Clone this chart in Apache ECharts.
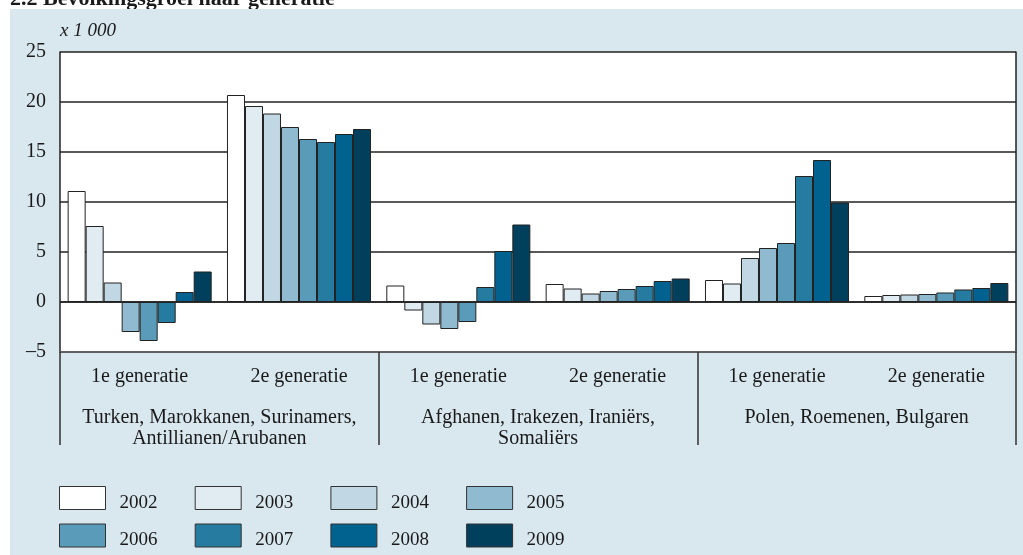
<!DOCTYPE html>
<html>
<head>
<meta charset="utf-8">
<script src="https://cdn.jsdelivr.net/npm/echarts@6/dist/echarts.min.js"></script>
<style>
html,body{margin:0;padding:0;background:#fff;}
#chart{width:1023px;height:555px;}
</style>
</head>
<body>
<div id="chart"></div>
<script>
// ---- data ----
var subCategories = ['1e generatie', '2e generatie', '1e generatie', '2e generatie', '1e generatie', '2e generatie'];
var groupCategories = ['Turken, Marokkanen, Surinamers,\nAntillianen/Arubanen', 'Afghanen, Irakezen, Iraniërs,\nSomaliërs', 'Polen, Roemenen, Bulgaren'];
var years = ['2002', '2003', '2004', '2005', '2006', '2007', '2008', '2009'];
var v2002 = [11.1, 20.7, 1.65, 1.8, 2.2, 0.6];
var v2003 = [7.6, 19.6, -0.85, 1.35, 1.85, 0.7];
var v2004 = [1.95, 18.85, -2.25, 0.85, 4.4, 0.75];
var v2005 = [-3.0, 17.5, -2.7, 1.1, 5.4, 0.8];
var v2006 = [-3.9, 16.3, -2.0, 1.3, 5.9, 0.95];
var v2007 = [-2.1, 16.0, 1.5, 1.6, 12.6, 1.25];
var v2008 = [1.0, 16.8, 5.1, 2.1, 14.2, 1.4];
var v2009 = [3.05, 17.3, 7.75, 2.35, 9.95, 1.9];
var yTicks = [-5, 0, 5, 10, 15, 20, 25];
var unitLabel = 'x 1 000';
var titleText = '2.2 Bevolkingsgroei naar generatie';

var seriesValues = [v2002, v2003, v2004, v2005, v2006, v2007, v2008, v2009];
var colors = ['#ffffff', '#e0ebf2', '#c1d8e4', '#8fbacf', '#5a9bb9', '#267ca0', '#016290', '#00405c'];
var FONT = '"Liberation Serif", "DejaVu Serif", serif';
var TXT = '#1a1a1a';

var chart = echarts.init(document.getElementById('chart'), null, {renderer: 'canvas'});

var series = years.map(function (y, i) {
  return {
    name: y,
    type: 'bar',
    xAxisIndex: 0,
    yAxisIndex: 0,
    data: seriesValues[i],
    barGap: '0%',
    barCategoryGap: '9.6%',
    itemStyle: {color: colors[i], borderColor: '#222', borderWidth: 1},
    emphasis: {disabled: true},
    animation: false
  };
});

var legends = years.map(function (y, i) {
  var col = i % 4, row = Math.floor(i / 4);
  return {
    data: [y], left: 59 + col * 135.7, top: row === 0 ? 486 : 523.5,
    padding: 0, itemWidth: 46, itemHeight: 23, itemGap: 0, icon: 'rect',
    selectedMode: false,
    formatter: function (name) { return '{s|}\n{n|' + name + '}'; },
    textStyle: {
      fontFamily: FONT, fontSize: 19, color: TXT, padding: [0, 0, 0, 9],
      rich: {
        s: {fontSize: 1, lineHeight: 10},
        n: {fontFamily: FONT, fontSize: 19, lineHeight: 19, color: TXT}
      }
    },
    itemStyle: {borderColor: '#333', borderWidth: 1}
  };
});

var option = {
  animation: false,
  textStyle: {fontFamily: FONT},
  graphic: [
    {type: 'rect', z: -10, shape: {x: 10, y: 9, width: 1013, height: 546}, style: {fill: '#d9e7ef'}},
    {type: 'text', left: 10, top: -12, z: -20, style: {text: titleText, font: 'bold 22px ' + FONT, fill: TXT}},
    {type: 'text', left: 60, top: 21, style: {text: unitLabel, font: 'italic 19px ' + FONT, fill: TXT}}
  ],
  grid: {left: 60, right: 7, top: 52, bottom: 203, show: true, backgroundColor: '#ffffff', borderWidth: 0},
  legend: legends,
  xAxis: [
    {
      type: 'category', data: subCategories, position: 'bottom',
      axisLine: {show: false}, axisTick: {show: false},
      axisLabel: {interval: 0, margin: 15, fontSize: 20, color: TXT, fontFamily: FONT}
    },
    {
      type: 'category', data: groupCategories, position: 'bottom',
      axisLine: {show: true, onZero: false, lineStyle: {color: '#666', width: 1.5}},
      axisTick: {show: true, interval: 0, length: 93, lineStyle: {color: '#333', width: 1.5}},
      axisLabel: {interval: 0, margin: 55, fontSize: 20, color: TXT, fontFamily: FONT, lineHeight: 21}
    }
  ],
  yAxis: [
    {
      type: 'value', min: -5, max: 25, interval: 5,
      axisLine: {show: true, lineStyle: {color: '#222', width: 1.5}},
      axisTick: {show: false},
      splitLine: {show: true, lineStyle: {color: '#222', width: 1.5}},
      axisLabel: {
        margin: 14, fontSize: 20, color: TXT, fontFamily: FONT,
        formatter: function (v) { return yTicks.indexOf(v) >= 0 ? String(v).replace('-', '\u2013') : ''; }
      }
    },
    {
      type: 'value', min: -5, max: 25, interval: 5, position: 'right',
      axisLine: {show: true, lineStyle: {color: '#222', width: 1.5}},
      axisTick: {show: false}, splitLine: {show: false}, axisLabel: {show: false}
    }
  ],
  series: series.concat([{
    type: 'line', data: [], markLine: {silent: true, symbol: 'none', label: {show: false},
      lineStyle: {color: '#222', width: 1.5, type: 'solid'}, data: [{yAxis: 0}]}
  }])
};
chart.setOption(option);
</script>
</body>
</html>
